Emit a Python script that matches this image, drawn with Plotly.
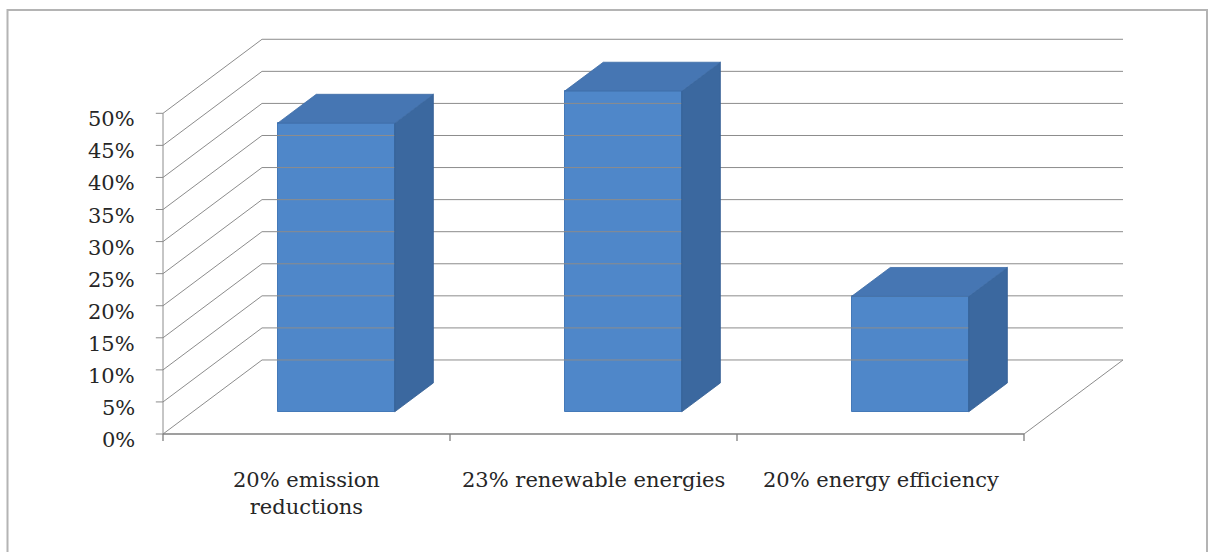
import plotly.graph_objects as go

# Data
categories = ["20% emission<br>reductions", "23% renewable energies", "20% energy efficiency"]
values = [0.45, 0.50, 0.18]
tick_values = [0.00, 0.05, 0.10, 0.15, 0.20, 0.25, 0.30, 0.35, 0.40, 0.45, 0.50]
tick_labels = ["0%", "5%", "10%", "15%", "20%", "25%", "30%", "35%", "40%", "45%", "50%"]

# Pseudo-3D layout (x in category units, y in value units)
W, H = 1211, 552
x0_px, cat_px = 163, 287          # front-left corner and category width in px
y0_px, val_px = 434, 641.4        # px of 0% and px per 100%
DEPTH_U, DEPTH_V = 0.345, 0.1154  # oblique offset of the back wall
BAR_F0, BAR_F1 = 0.30, 0.69       # depth slice occupied by the columns
BAR_W = 0.408                     # column width in category units

FRONT = "#4F87C9"
SIDE = "#3B689F"
TOP = "#4676B3"
GRID = "#8C8C8C"
TXT = "#262626"
FONT = "DejaVu Serif"

fig = go.Figure()

# back wall / left wall gridlines
gx, gy = [], []
n_cat = len(categories)
for t in tick_values:
    gx += [0, DEPTH_U, n_cat + DEPTH_U, None]
    gy += [t, t + DEPTH_V, t + DEPTH_V, None]
fig.add_trace(go.Scatter(x=gx, y=gy, mode="lines", line=dict(color=GRID, width=1),
                         hoverinfo="skip", showlegend=False))

# floor right edge
fig.add_trace(go.Scatter(x=[n_cat, n_cat + DEPTH_U], y=[0, DEPTH_V], mode="lines",
                         line=dict(color=GRID, width=1), hoverinfo="skip", showlegend=False))

# vertical value axis with tick marks
ax_x, ax_y = [0, 0, None], [0, tick_values[-1], None]
for t in tick_values:
    ax_x += [-0.025, 0, None]
    ax_y += [t, t, None]
fig.add_trace(go.Scatter(x=ax_x, y=ax_y, mode="lines", line=dict(color=GRID, width=1),
                         hoverinfo="skip", showlegend=False))

# category axis (front floor edge) with tick marks
cx, cy = [0, n_cat, None], [0, 0, None]
for i in range(n_cat + 1):
    cx += [i, i, None]
    cy += [0, -0.011, None]
fig.add_trace(go.Scatter(x=cx, y=cy, mode="lines", line=dict(color="#7F7F7F", width=1.3),
                         hoverinfo="skip", showlegend=False))

# columns: side and top faces as polygons, front face as a bar
du = (BAR_F1 - BAR_F0) * DEPTH_U
dv = (BAR_F1 - BAR_F0) * DEPTH_V
centers, bases = [], []
for i, v in enumerate(values):
    xc = i + 0.5 + BAR_F0 * DEPTH_U
    base = BAR_F0 * DEPTH_V
    xl, xr = xc - BAR_W / 2, xc + BAR_W / 2
    top = base + v
    centers.append(xc)
    bases.append(base)
    # right side face
    fig.add_trace(go.Scatter(
        x=[xr, xr + du, xr + du, xr, xr], y=[base, base + dv, top + dv, top, base],
        fill="toself", fillcolor=SIDE, mode="lines", line=dict(color="#345E93", width=0.8),
        hoverinfo="skip", showlegend=False))
    # top face
    fig.add_trace(go.Scatter(
        x=[xl, xl + du, xr + du, xr, xl], y=[top, top + dv, top + dv, top, top],
        fill="toself", fillcolor=TOP, mode="lines", line=dict(color="#3D6CA6", width=0.8),
        hoverinfo="skip", showlegend=False))

fig.add_trace(go.Bar(
    x=centers, y=values, base=bases, width=BAR_W,
    marker=dict(color=FRONT, line=dict(color="#4479B8", width=1)),
    hoverinfo="skip", showlegend=False))

# value tick labels
for t, lab in zip(tick_values, tick_labels):
    fig.add_annotation(x=-0.09, y=t, text=lab, showarrow=False, xanchor="right",
                       yanchor="middle", yshift=-6, font=dict(family=FONT, size=21, color=TXT))

# category labels
for i, c in enumerate(categories):
    fig.add_annotation(x=i + 0.5, y=-0.05, text=c, showarrow=False, xanchor="center",
                       yanchor="top", font=dict(family=FONT, size=21, color=TXT))

x_range = [(0 - x0_px) / cat_px, (W - x0_px) / cat_px]
y_range = [(y0_px - H) / val_px, y0_px / val_px]

fig.update_layout(
    width=W, height=H,
    margin=dict(l=0, r=0, t=0, b=0),
    paper_bgcolor="white", plot_bgcolor="white",
    xaxis=dict(range=x_range, visible=False, fixedrange=True),
    yaxis=dict(range=y_range, visible=False, fixedrange=True),
    bargap=0,
    shapes=[dict(type="rect", xref="paper", yref="paper", x0=7.5 / W, x1=1207 / W,
                 y0=-0.05, y1=1 - 10 / H, line=dict(color="#B4B4B4", width=2),
                 fillcolor="rgba(0,0,0,0)", layer="below")],
)

fig.write_html("out.html")
